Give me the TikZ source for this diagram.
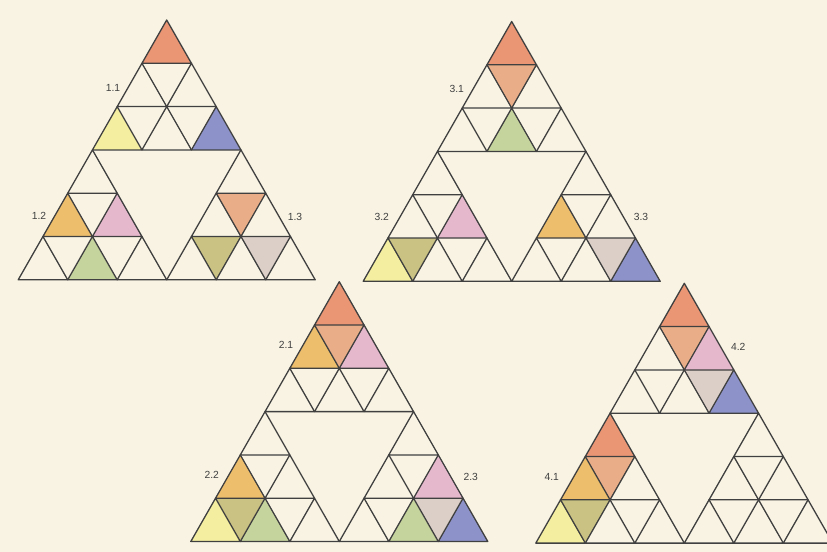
\documentclass[tikz,border=0pt]{standalone}
\usepackage{fontspec}
\setmainfont{Liberation Sans}
\definecolor{bg}{HTML}{F8F3E3}
\definecolor{lin}{HTML}{404040}
\definecolor{cOr}{HTML}{EA9574}
\definecolor{cPe}{HTML}{E9AE88}
\definecolor{cGo}{HTML}{EDBE6C}
\definecolor{cYe}{HTML}{F4EEA0}
\definecolor{cPi}{HTML}{E6B8CC}
\definecolor{cGr}{HTML}{C5D39C}
\definecolor{cOl}{HTML}{C9C282}
\definecolor{cGy}{HTML}{DBCFC7}
\definecolor{cBl}{HTML}{8D93C9}
\definecolor{txt}{HTML}{404040}
\def\s{49.5}
\def\h{43.3}
\newcommand\fU[4]{\fill[#1,shift={(#2)}] ({(#4-#3/2)*\s},{#3*\h}) -- ++({-\s/2},\h) -- ++(\s,0) -- cycle;}
\newcommand\fD[4]{\fill[#1,shift={(#2)}] ({(#4-#3/2)*\s},{#3*\h}) -- ++(\s,0) -- ++({-\s/2},\h) -- cycle;}
\newcommand\sgrid[1]{\foreach \r in {0,1,2}{\foreach \k in {0,...,\r}{\draw[gridline,shift={(#1)}] ({(\k-\r/2)*\s},{\r*\h}) -- ++({-\s/2},\h) -- ++(\s,0) -- cycle;}}}
\newcommand\bigtri[3]{%
  \coordinate (#1a) at (#2,#3);
  \coordinate (#1b) at ({#2-1.5*\s},{#3+3*\h});
  \coordinate (#1c) at ({#2+1.5*\s},{#3+3*\h});}
\begin{document}
\begin{tikzpicture}[x=0.03cm,y=-0.03cm,
  gridline/.style={draw=lin,line width=1.1pt,line join=round},
  lbl/.style={font=\fontsize{8.8}{10}\selectfont,text=txt,inner sep=0pt}]
\fill[bg] (0,0) rectangle (827,552);
\useasboundingbox (0,0) rectangle (827,552);
\clip (0,0) rectangle (827,552);
\bigtri{A}{166.7}{20}
\bigtri{C}{511.7}{21.5}
\bigtri{B}{339.3}{281.7}
\bigtri{D}{684.3}{283.3}
% ---- triangle 1 ----
\fU{cOr}{Aa}{0}{0}
\fU{cYe}{Aa}{2}{0}
\fU{cBl}{Aa}{2}{2}
\fU{cGo}{Ab}{1}{0}
\fU{cPi}{Ab}{1}{1}
\fU{cGr}{Ab}{2}{1}
\fD{cPe}{Ac}{1}{0}
\fD{cOl}{Ac}{2}{0}
\fD{cGy}{Ac}{2}{1}
% ---- triangle 3 ----
\fU{cOr}{Ca}{0}{0}
\fD{cPe}{Ca}{1}{0}
\fU{cGr}{Ca}{2}{1}
\fU{cYe}{Cb}{2}{0}
\fD{cOl}{Cb}{2}{0}
\fU{cPi}{Cb}{1}{1}
\fU{cGo}{Cc}{1}{0}
\fD{cGy}{Cc}{2}{1}
\fU{cBl}{Cc}{2}{2}
% ---- triangle 2 ----
\fU{cOr}{Ba}{0}{0}
\fU{cGo}{Ba}{1}{0}
\fD{cPe}{Ba}{1}{0}
\fU{cPi}{Ba}{1}{1}
\fU{cGo}{Bb}{1}{0}
\fU{cYe}{Bb}{2}{0}
\fD{cOl}{Bb}{2}{0}
\fU{cGr}{Bb}{2}{1}
\fU{cPi}{Bc}{1}{1}
\fU{cGr}{Bc}{2}{1}
\fD{cGy}{Bc}{2}{1}
\fU{cBl}{Bc}{2}{2}
% ---- triangle 4 ----
\fU{cOr}{Da}{0}{0}
\fD{cPe}{Da}{1}{0}
\fU{cPi}{Da}{1}{1}
\fD{cGy}{Da}{2}{1}
\fU{cBl}{Da}{2}{2}
\fU{cOr}{Db}{0}{0}
\fD{cPe}{Db}{1}{0}
\fU{cGo}{Db}{1}{0}
\fU{cYe}{Db}{2}{0}
\fD{cOl}{Db}{2}{0}
% ---- grids ----
\foreach \T in {A,B,C,D}{\sgrid{\T a}\sgrid{\T b}\sgrid{\T c}}
% ---- labels ----
\node[lbl] (l11) at (113,88) {1.1};
\node[lbl] (l12) at (39,216) {1.2};
\node[lbl] (l13) at (295,216.5) {1.3};
\node[lbl] (l31) at (456.7,89) {3.1};
\node[lbl] (l32) at (381.7,216.5) {3.2};
\node[lbl] (l33) at (641,216.5) {3.3};
\node[lbl] (l21) at (286,345) {2.1};
\node[lbl] (l22) at (211.7,475) {2.2};
\node[lbl] (l23) at (470.7,476.7) {2.3};
\node[lbl] (l42) at (738.3,346.7) {4.2};
\node[lbl] (l41) at (551.7,476.7) {4.1};
\end{tikzpicture}
\end{document}
